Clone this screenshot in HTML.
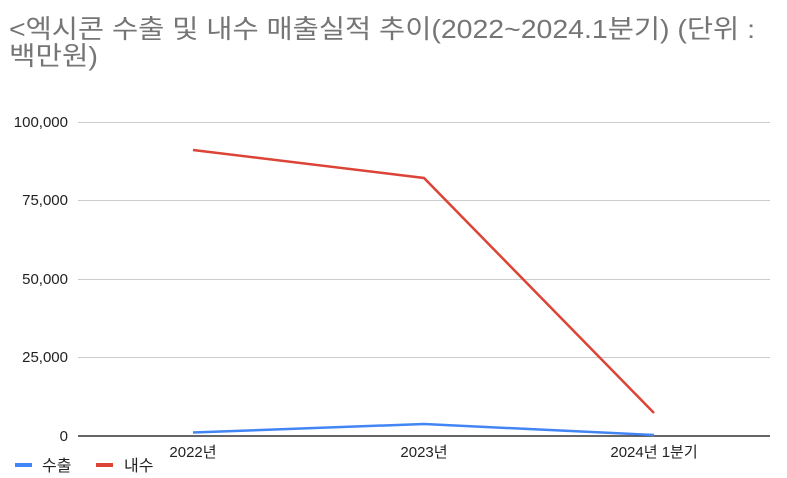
<!DOCTYPE html>
<html><head><meta charset="utf-8"><style>
body{margin:0;background:#fff;}
svg{display:block;font-family:"Liberation Sans","Noto Sans CJK KR",sans-serif;}
</style></head><body>
<svg width="787" height="478" viewBox="0 0 787 478">
<text x="9" y="38" font-size="26" fill="#757575" textLength="746" lengthAdjust="spacingAndGlyphs">&lt;엑시콘 수출 및 내수 매출실적 추이(2022~2024.1분기) (단위 :</text>
<text x="9" y="65" font-size="26" fill="#757575" textLength="89" lengthAdjust="spacingAndGlyphs">백만원)</text>
<g stroke="#cccccc" stroke-width="1">
<line x1="78" y1="122.5" x2="770" y2="122.5"/>
<line x1="78" y1="200.5" x2="770" y2="200.5"/>
<line x1="78" y1="279.5" x2="770" y2="279.5"/>
<line x1="78" y1="357.5" x2="770" y2="357.5"/>
</g>
<line x1="78" y1="436" x2="770" y2="436" stroke="#333" stroke-width="1.5"/>
<g font-size="15" fill="#222" text-anchor="end">
<text x="68" y="127">100,000</text>
<text x="68" y="205">75,000</text>
<text x="68" y="284">50,000</text>
<text x="68" y="362">25,000</text>
<text x="68" y="441">0</text>
</g>
<g font-size="15" fill="#222" text-anchor="middle">
<text x="193" y="457">2022년</text>
<text x="424" y="457">2023년</text>
<text x="654" y="457">2024년 1분기</text>
</g>
<polyline points="193,150 424,178 654,413" fill="none" stroke="#db4437" stroke-width="2.5"/>
<polyline points="193,432.5 424,424 654,435" fill="none" stroke="#4285f4" stroke-width="2.5"/>
<rect x="15" y="463" width="17" height="4" fill="#4285f4"/>
<text x="42" y="471" font-size="16" fill="#222">수출</text>
<rect x="96" y="463" width="17" height="4" fill="#db4437"/>
<text x="124" y="471" font-size="16" fill="#222">내수</text>
</svg>
</body></html>
